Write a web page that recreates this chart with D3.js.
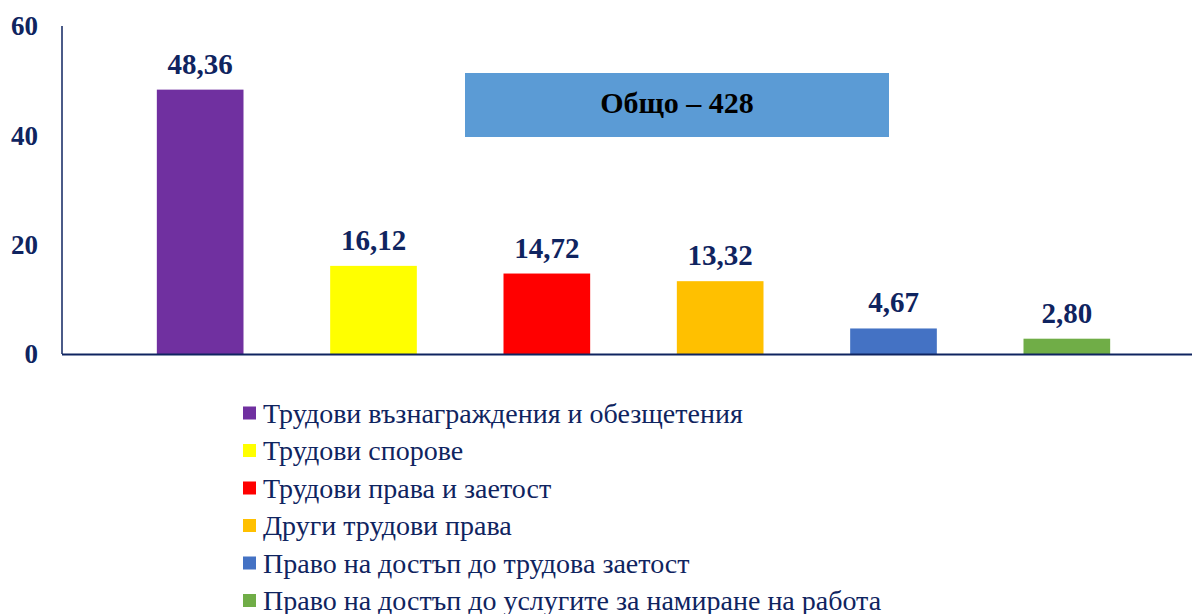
<!DOCTYPE html>
<html><head><meta charset="utf-8">
<script src="https://cdn.jsdelivr.net/npm/d3@7"></script>
<style>body{margin:0;background:#fff}svg{display:block}</style>
</head><body>
<script>
const categories = ["Трудови възнаграждения и обезщетения","Трудови спорове","Трудови права и заетост","Други трудови права","Право на достъп до трудова заетост","Право на достъп до услугите за намиране на работа"];
const values = [48.36, 16.12, 14.72, 13.32, 4.67, 2.80];
const colors = ["#7030A0","#FFFF00","#FF0000","#FFC000","#4472C4","#70AD47"];
const yTicks = [0, 20, 40, 60];
const totalLabel = "Общо – 428";

const W = 1192, H = 614;
const navy = "#0F2460";
const FF = "'Times New Roman', Tinos, serif";
const svg = d3.select("body").append("svg").attr("width", W).attr("height", H);

const y = d3.scaleLinear().domain([0, 60]).range([354, 26]);
const x = d3.scaleBand().domain(categories).range([113.5, 1153.5]).paddingInner(0.5).paddingOuter(0.25);

svg.append("line").attr("x1", 62).attr("x2", 62).attr("y1", y(60)).attr("y2", y(0)).attr("stroke", navy).attr("stroke-width", 1.5);

svg.selectAll(".yt").data(yTicks).enter().append("text")
  .attr("x", 38).attr("y", d => y(d)).attr("dy", "0.35em").attr("text-anchor", "end")
  .style("font-family", FF).style("font-weight", "bold").style("font-size", "27px")
  .attr("fill", navy).text(d => d);

svg.selectAll(".bar").data(values).enter().append("rect")
  .attr("x", (d, i) => x(categories[i])).attr("width", x.bandwidth())
  .attr("y", d => y(d)).attr("height", d => y(0) - y(d))
  .attr("fill", (d, i) => colors[i]);

svg.append("line").attr("x1", 62).attr("x2", W).attr("y1", y(0)+0.5).attr("y2", y(0)+0.5).attr("stroke", navy).attr("stroke-width", 2);

svg.selectAll(".vl").data(values).enter().append("text")
  .attr("x", (d, i) => x(categories[i]) + x.bandwidth()/2).attr("y", d => y(d) - 16)
  .attr("text-anchor", "middle")
  .style("font-family", FF).style("font-weight", "bold").style("font-size", "29px")
  .attr("fill", navy)
  .text(d => d.toFixed(2).replace(".", ","));

svg.append("rect").attr("x", 465).attr("y", 73).attr("width", 424).attr("height", 64).attr("fill", "#5B9BD5");
svg.append("text").attr("x", 677).attr("y", 102).attr("dy", "0.35em").attr("text-anchor", "middle")
  .style("font-family", FF).style("font-weight", "bold").style("font-size", "30px")
  .attr("fill", "#000").text(totalLabel);

const lg = svg.append("g");
categories.forEach((c, i) => {
  const cy = 413 + i * 37.5;
  lg.append("rect").attr("x", 243).attr("y", cy - 6.5).attr("width", 13).attr("height", 13).attr("fill", colors[i]);
  lg.append("text").attr("x", 263).attr("y", cy).attr("dy", "0.35em")
    .style("font-family", FF).style("font-size", "28px")
    .attr("fill", navy).text(c);
});
</script>
</body></html>
